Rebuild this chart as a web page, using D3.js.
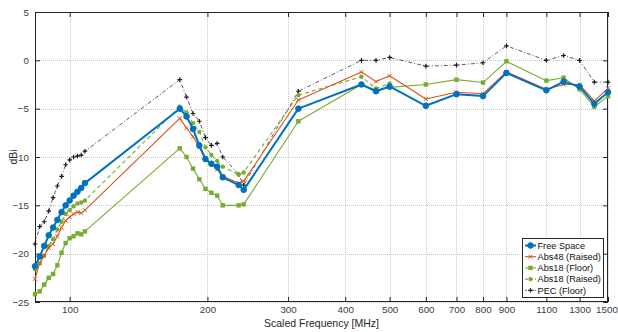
<!DOCTYPE html>
<html><head><meta charset="utf-8">
<script src="https://cdn.jsdelivr.net/npm/d3@7"></script>
<style>
html,body{margin:0;padding:0;background:#fff;}
svg{display:block;font-family:"Liberation Sans",Arial,Helvetica,sans-serif;}
</style></head>
<body><svg id="chart" width="618" height="332"></svg>
<script>
const freqs = [84,86,88,90,92,94,96,98,100,102,104,106,108,
  174,180,186,192,198,204,210,216,234,240,
  316,434,467,500,600,700,800,900,1100,1200,1300,1400,1500];
const freeSpace = [-21.3,-20.3,-19.2,-18.1,-17.3,-16.5,-15.7,-15.0,-14.5,-14.0,-13.6,-13.2,-12.7,
  -5.0,-5.8,-7.1,-8.8,-10.2,-10.7,-11.0,-12.1,-12.9,-13.4,
  -5.0,-2.5,-3.2,-2.7,-4.7,-3.5,-3.7,-1.3,-3.1,-2.2,-2.7,-4.5,-3.3];
const abs48Raised = [-22.6,-21.0,-20.2,-19.4,-19.0,-18.2,-17.3,-16.6,-16.2,-15.9,-15.7,-15.8,-15.5,
  -6.0,-7.0,-7.9,-9.0,-10.3,-10.7,-11.3,-12.0,-12.7,-12.5,
  -4.1,-1.2,-2.2,-1.6,-4.0,-3.3,-3.45,-1.2,-3.0,-2.5,-2.5,-4.2,-2.9];
const abs18Floor = [-24.2,-23.9,-23.2,-22.5,-22.1,-21.2,-19.9,-18.9,-18.4,-18.2,-17.9,-18.0,-17.7,
  -9.1,-10.0,-11.2,-12.3,-13.3,-13.7,-14.0,-15.0,-15.0,-14.9,
  -6.3,-2.5,-3.1,-2.8,-2.5,-2.0,-2.3,-0.1,-2.1,-1.8,-3.0,-4.8,-3.7];
const abs18Raised = [-21.6,-21.0,-20.2,-19.2,-18.5,-17.5,-16.7,-15.9,-15.5,-15.1,-14.8,-14.7,-14.5,
  -4.8,-5.4,-6.5,-7.4,-9.0,-9.8,-10.4,-11.0,-11.8,-11.6,
  -3.6,-1.7,-2.9,-2.4,null,null,null,null,null,null,null,null,null];
const pecFloor = [-19.0,-17.2,-16.7,-15.6,-14.2,-13.0,-12.0,-10.8,-10.3,-10.0,-9.9,-9.8,-9.4,
  -2.0,-3.8,-5.5,-6.3,-8.0,-8.8,-8.6,-10.0,-11.8,-12.9,
  -3.2,0.0,0.0,0.3,-0.6,-0.5,-0.25,1.5,0.0,0.5,0.0,-2.25,-2.25];
const xTicks = [100,200,300,400,500,600,700,800,900,1100,1300,1500];
const yTicks = [5,0,-5,-10,-15,-20,-25];
const seriesNames = ["Free Space","Abs48 (Raised)","Abs18 (Floor)","Abs18 (Raised)","PEC (Floor)"];

const svg = d3.select("#chart");
const L=35, R=608, T=12, B=302;
const x = d3.scaleLog().domain([84,1500]).range([L,R]);
const y = d3.scaleLinear().domain([-25,5]).range([B,T]);

// grid
const grid = svg.append("g");
grid.selectAll("line.vx").data(xTicks).join("line")
  .attr("x1",d=>Math.round(x(d))+0.5).attr("x2",d=>Math.round(x(d))+0.5)
  .attr("y1",T).attr("y2",B).attr("stroke","#c8c8c8").attr("stroke-width",1).attr("stroke-dasharray","1,1");
grid.selectAll("line.hy").data(yTicks).join("line")
  .attr("y1",d=>Math.round(y(d))+0.5).attr("y2",d=>Math.round(y(d))+0.5)
  .attr("x1",L).attr("x2",R).attr("stroke","#c8c8c8").attr("stroke-width",1).attr("stroke-dasharray","1,1");

// axes
const axCol="#262626";
const gx = svg.append("g").attr("transform",`translate(0,${B})`)
  .call(d3.axisBottom(x).tickValues(xTicks).tickFormat(d3.format("d")).tickSizeInner(-5).tickSizeOuter(0).tickPadding(4));
const gxTop = svg.append("g").attr("transform",`translate(0,${T})`)
  .call(d3.axisTop(x).tickValues(xTicks).tickFormat("").tickSizeInner(-5).tickSizeOuter(0));
const gy = svg.append("g").attr("transform",`translate(${L},0)`)
  .call(d3.axisLeft(y).tickValues(yTicks).tickSizeInner(-5).tickSizeOuter(0).tickPadding(6));
const gyR = svg.append("g").attr("transform",`translate(${R},0)`)
  .call(d3.axisRight(y).tickValues(yTicks).tickFormat("").tickSizeInner(-5).tickSizeOuter(0));
[gx,gxTop,gy,gyR].forEach(g=>{
  g.select(".domain").remove();
  g.selectAll("line").attr("stroke",axCol);
  g.selectAll("text").attr("fill","#404040").attr("font-size",9.8).attr("font-family","Liberation Sans, Arial, sans-serif");
});
gx.selectAll(".tick text").filter(d=>d===1500).attr("dx",-1.5);
svg.append("rect").attr("x",L+0.5).attr("y",T+0.5).attr("width",R-L-1).attr("height",B-T-1)
  .attr("fill","none").attr("stroke",axCol).attr("stroke-width",1);

svg.append("text").attr("x",(L+R)/2).attr("y",327).attr("text-anchor","middle")
  .attr("font-size",10.5).attr("fill","#262626").text("Scaled Frequency [MHz]");
svg.append("text").attr("transform",`translate(17,${(T+B)/2}) rotate(-90)`).attr("text-anchor","middle")
  .attr("font-size",10.5).attr("fill","#262626").text("dBi");

const blue="#0072BD", orange="#D95319", green="#77AC30", black="#1a1a1a";
const series = [
  {name:seriesNames[4], vals:pecFloor, color:black, w:0.7, dash:"4,2,1,2", marker:"plus"},
  {name:seriesNames[2], vals:abs18Floor, color:green, w:1.1, dash:null, marker:"square"},
  {name:seriesNames[3], vals:abs18Raised, color:green, w:1.1, dash:"4,3", marker:"dot"},
  {name:seriesNames[1], vals:abs48Raised, color:orange, w:1.1, dash:null, marker:"x"},
  {name:seriesNames[0], vals:freeSpace, color:blue, w:2, dash:null, marker:"circle"}
];

function drawMarker(g, type, cx, cy, color){
  if(type==="circle") g.append("circle").attr("cx",cx).attr("cy",cy).attr("r",2.8).attr("fill",color).attr("stroke",color);
  else if(type==="square") g.append("rect").attr("x",cx-2.2).attr("y",cy-2.2).attr("width",4.4).attr("height",4.4).attr("fill",color);
  else if(type==="dot") g.append("circle").attr("cx",cx).attr("cy",cy).attr("r",2.2).attr("fill",color);
  else if(type==="x") g.append("path").attr("d",`M${cx-2},${cy-2}L${cx+2},${cy+2}M${cx-2},${cy+2}L${cx+2},${cy-2}`).attr("stroke",color).attr("stroke-width",1);
  else if(type==="plus") g.append("path").attr("d",`M${cx-2.3},${cy}L${cx+2.3},${cy}M${cx},${cy-2.3}L${cx},${cy+2.3}`).attr("stroke",color).attr("stroke-width",1.2);
}

const plot = svg.append("g");
series.forEach(s=>{
  const pts = freqs.map((f,i)=>({f, v:s.vals[i]})).filter(d=>d.v!==null);
  const line = d3.line().x(d=>x(d.f)).y(d=>y(d.v));
  plot.append("path").datum(pts).attr("d",line).attr("fill","none")
    .attr("stroke",s.color).attr("stroke-width",s.w).attr("stroke-dasharray",s.dash)
    .attr("stroke-linejoin","round");
  const mg = plot.append("g");
  pts.forEach(d=>drawMarker(mg, s.marker, x(d.f), y(d.v), s.color));
});

// legend
const legOrder = [series[4],series[3],series[1],series[2],series[0]];
const lx=522, ly=238, lw=81, lh=59;
const leg = svg.append("g");
leg.append("rect").attr("x",lx+0.5).attr("y",ly+0.5).attr("width",lw).attr("height",lh)
  .attr("fill","#fff").attr("stroke",axCol).attr("stroke-width",1);
legOrder.forEach((s,i)=>{
  const yy = ly+7.5+i*11.2;
  leg.append("line").attr("x1",lx+3).attr("x2",lx+14).attr("y1",yy).attr("y2",yy)
    .attr("stroke",s.color).attr("stroke-width",s.w).attr("stroke-dasharray",s.dash==="4,3"?"3,2":(s.dash?"2,1,1,1":null));
  drawMarker(leg, s.marker, lx+8.5, yy, s.color);
  leg.append("text").attr("x",lx+15.5).attr("y",yy+3.3).attr("font-size",9.2).attr("fill","#111").text(s.name);
});
</script></body></html>
